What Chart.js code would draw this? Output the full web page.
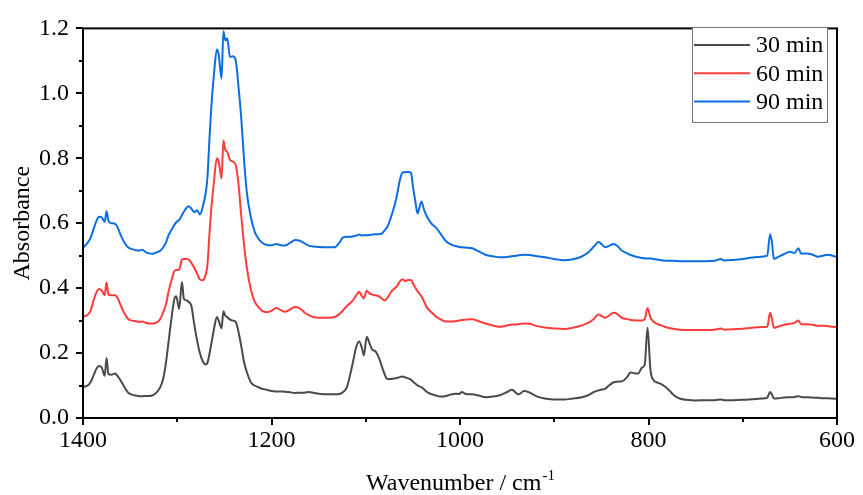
<!DOCTYPE html>
<html>
<head>
<meta charset="utf-8">
<title>FTIR spectra</title>
<script src="https://cdn.jsdelivr.net/npm/chart.js@4.4.0/dist/chart.umd.min.js"></script>
<style>
  html, body { margin: 0; padding: 0; background: #fff; }
  #wrap { width: 863px; height: 495px; }
</style>
</head>
<body>
<div id="wrap"><canvas id="ftirChart" width="863" height="495"></canvas></div>
<script>
// wavenumber (cm-1), high -> low
const wavenumbers = [
  1400, 1398, 1395, 1392, 1389, 1386, 1383, 1380, 1377, 1375,
  1373, 1370, 1366, 1363, 1360, 1356, 1352, 1348, 1344, 1340,
  1337, 1333, 1330, 1326, 1322, 1318, 1315, 1312, 1309, 1306,
  1303, 1301, 1298, 1295, 1293, 1290, 1288, 1285, 1282, 1279,
  1276, 1273, 1270, 1268, 1266, 1264, 1261, 1258, 1256, 1253,
  1251, 1249, 1247, 1244, 1241, 1238, 1235, 1232, 1229, 1226,
  1222, 1218, 1214, 1210, 1205, 1200, 1195, 1190, 1186, 1180,
  1175, 1170, 1165, 1160, 1155, 1150, 1140, 1133, 1128, 1124,
  1120, 1116, 1113, 1110, 1107, 1104, 1102, 1099, 1096, 1093,
  1090, 1086, 1083, 1080, 1077, 1074, 1070, 1067, 1064, 1061,
  1058, 1055, 1052, 1050, 1047, 1045, 1041, 1038, 1035, 1030,
  1025, 1020, 1015, 1010, 1005, 1001, 998, 994, 987, 980,
  973, 965, 958, 950, 945, 940, 938, 932, 926, 918,
  910, 900, 890, 880, 872, 864, 858, 853, 849, 846,
  842, 837, 833, 828, 823, 819, 815, 811, 807, 804,
  801, 798, 795, 791, 787, 783, 778, 773, 767, 760,
  750, 740, 730, 723, 720, 710, 700, 690, 680, 674,
  671, 669, 667, 662, 656, 650, 645, 641, 638, 632,
  626, 620, 615, 610, 605, 600
];

const abs30 = [
  0.095, 0.097, 0.100, 0.110, 0.130, 0.150, 0.160, 0.155, 0.130, 0.185,
  0.135, 0.133, 0.137, 0.128, 0.115, 0.095, 0.078, 0.072, 0.069, 0.067,
  0.067, 0.068, 0.068, 0.070, 0.078, 0.095, 0.120, 0.170, 0.240, 0.310,
  0.367, 0.375, 0.336, 0.419, 0.367, 0.362, 0.358, 0.345, 0.290, 0.240,
  0.200, 0.175, 0.165, 0.170, 0.195, 0.226, 0.275, 0.311, 0.300, 0.276,
  0.329, 0.315, 0.311, 0.303, 0.300, 0.296, 0.265, 0.220, 0.170, 0.140,
  0.110, 0.100, 0.095, 0.090, 0.087, 0.083, 0.082, 0.082, 0.081, 0.079,
  0.077, 0.078, 0.078, 0.080, 0.077, 0.075, 0.073, 0.073, 0.074, 0.080,
  0.095, 0.140, 0.180, 0.220, 0.236, 0.215, 0.193, 0.250, 0.230, 0.210,
  0.206, 0.185, 0.160, 0.135, 0.120, 0.120, 0.122, 0.123, 0.126, 0.128,
  0.125, 0.122, 0.118, 0.112, 0.105, 0.100, 0.095, 0.088, 0.080, 0.073,
  0.069, 0.066, 0.068, 0.072, 0.075, 0.074, 0.080, 0.074, 0.073, 0.069,
  0.064, 0.066, 0.070, 0.080, 0.087, 0.076, 0.073, 0.083, 0.078, 0.066,
  0.060, 0.057, 0.057, 0.060, 0.063, 0.070, 0.080, 0.085, 0.088, 0.090,
  0.100, 0.110, 0.112, 0.113, 0.125, 0.140, 0.138, 0.137, 0.155, 0.165,
  0.278, 0.150, 0.118, 0.110, 0.105, 0.098, 0.085, 0.070, 0.060, 0.056,
  0.054, 0.055, 0.055, 0.057, 0.055, 0.055, 0.056, 0.058, 0.060, 0.063,
  0.080, 0.072, 0.060, 0.061, 0.063, 0.064, 0.065, 0.067, 0.065, 0.064,
  0.063, 0.062, 0.061, 0.061, 0.060, 0.059
];

const abs60 = [
  0.312, 0.314, 0.318, 0.330, 0.360, 0.385, 0.397, 0.392, 0.378, 0.417,
  0.380, 0.378, 0.378, 0.368, 0.347, 0.322, 0.305, 0.300, 0.298, 0.296,
  0.297, 0.293, 0.291, 0.291, 0.294, 0.305, 0.325, 0.350, 0.392, 0.425,
  0.453, 0.456, 0.457, 0.488, 0.490, 0.490, 0.488, 0.478, 0.463, 0.445,
  0.427, 0.424, 0.440, 0.470, 0.560, 0.640, 0.730, 0.800, 0.790, 0.738,
  0.855, 0.825, 0.820, 0.795, 0.790, 0.780, 0.720, 0.620, 0.530, 0.460,
  0.397, 0.360, 0.342, 0.330, 0.326, 0.330, 0.339, 0.332, 0.327, 0.335,
  0.342, 0.338, 0.325, 0.316, 0.310, 0.309, 0.309, 0.311, 0.320, 0.332,
  0.345, 0.355, 0.365, 0.378, 0.389, 0.375, 0.369, 0.392, 0.384, 0.380,
  0.378, 0.375, 0.368, 0.362, 0.370, 0.385, 0.398, 0.405, 0.420, 0.427,
  0.422, 0.425, 0.425, 0.415, 0.400, 0.390, 0.375, 0.358, 0.340, 0.325,
  0.311, 0.303, 0.297, 0.297, 0.298, 0.300, 0.302, 0.303, 0.304, 0.298,
  0.291, 0.285, 0.281, 0.285, 0.288, 0.288, 0.289, 0.291, 0.290, 0.283,
  0.279, 0.276, 0.274, 0.278, 0.284, 0.293, 0.305, 0.319, 0.313, 0.309,
  0.315, 0.324, 0.320, 0.308, 0.305, 0.302, 0.301, 0.300, 0.300, 0.305,
  0.339, 0.310, 0.298, 0.290, 0.286, 0.281, 0.277, 0.274, 0.272, 0.271,
  0.271, 0.271, 0.272, 0.276, 0.272, 0.273, 0.275, 0.278, 0.280, 0.281,
  0.324, 0.305, 0.278, 0.282, 0.287, 0.290, 0.293, 0.300, 0.289, 0.289,
  0.287, 0.284, 0.284, 0.283, 0.281, 0.280
];

const abs90 = [
  0.525, 0.530, 0.540, 0.555, 0.580, 0.605, 0.620, 0.618, 0.604, 0.637,
  0.607, 0.600, 0.598, 0.585, 0.563, 0.540, 0.525, 0.520, 0.517, 0.516,
  0.518, 0.510, 0.507, 0.506, 0.510, 0.515, 0.525, 0.540, 0.565, 0.580,
  0.595, 0.603, 0.610, 0.625, 0.635, 0.648, 0.652, 0.645, 0.634, 0.640,
  0.627, 0.650, 0.690, 0.740, 0.850, 0.951, 1.060, 1.135, 1.120, 1.045,
  1.191, 1.163, 1.170, 1.112, 1.114, 1.102, 1.020, 0.920, 0.790, 0.690,
  0.620, 0.575, 0.553, 0.540, 0.533, 0.532, 0.536, 0.532, 0.531, 0.540,
  0.548, 0.546, 0.538, 0.530, 0.528, 0.527, 0.526, 0.526, 0.540, 0.556,
  0.558, 0.558, 0.560, 0.562, 0.565, 0.562, 0.563, 0.563, 0.564, 0.565,
  0.566, 0.566, 0.568, 0.578, 0.589, 0.612, 0.649, 0.685, 0.730, 0.756,
  0.757, 0.758, 0.755, 0.715, 0.660, 0.630, 0.667, 0.640, 0.620, 0.598,
  0.585, 0.565, 0.545, 0.535, 0.530, 0.527, 0.526, 0.525, 0.523, 0.513,
  0.503, 0.498, 0.495, 0.496, 0.498, 0.500, 0.501, 0.503, 0.502, 0.498,
  0.495, 0.490, 0.486, 0.489, 0.496, 0.510, 0.528, 0.542, 0.533, 0.526,
  0.530, 0.536, 0.530, 0.515, 0.508, 0.502, 0.498, 0.495, 0.493, 0.492,
  0.491, 0.491, 0.490, 0.488, 0.486, 0.485, 0.484, 0.484, 0.483, 0.483,
  0.483, 0.483, 0.484, 0.490, 0.485, 0.487, 0.490, 0.494, 0.497, 0.500,
  0.566, 0.540, 0.490, 0.497, 0.505, 0.512, 0.508, 0.523, 0.506, 0.507,
  0.503, 0.497, 0.500, 0.503, 0.500, 0.496
];

const seriesLabels = ['30 min', '60 min', '90 min'];
const seriesColors = ['#4a4a4a', '#ff3c3c', '#0a6ee0'];

const FONT = "'Liberation Serif', 'Times New Roman', serif";
Chart.defaults.font.family = FONT;
Chart.defaults.color = '#000';

function toPoints(vals) {
  return wavenumbers.map((w, i) => ({ x: w, y: vals[i] }));
}

// frame, outward major/minor ticks, legend box and x title with superscript
const decorations = {
  id: 'decorations',
  afterDraw(chart) {
    const { ctx, chartArea: a, scales: { x, y } } = chart;
    ctx.save();
    ctx.strokeStyle = '#000';
    ctx.lineWidth = 2;
    ctx.strokeRect(a.left, a.top, a.right - a.left, a.bottom - a.top);

    ctx.beginPath();
    for (let v = 600; v <= 1400; v += 100) {
      const px = Math.round(x.getPixelForValue(v));
      const len = v % 200 === 0 ? 7 : 4;
      ctx.moveTo(px, a.bottom);
      ctx.lineTo(px, a.bottom + len);
    }
    for (let i = 0; i <= 12; i++) {
      const py = Math.round(y.getPixelForValue(i / 10));
      const len = i % 2 === 0 ? 7 : 4;
      ctx.moveTo(a.left, py);
      ctx.lineTo(a.left - len, py);
    }
    ctx.stroke();

    // legend
    const bx = 692, by = 27, bw = 135, bh = 95;
    ctx.fillStyle = '#fff';
    ctx.fillRect(bx, by, bw, bh);
    ctx.strokeStyle = '#777';
    ctx.lineWidth = 1;
    ctx.strokeRect(bx + 0.5, by + 0.5, bw, bh);
    ctx.font = '24px ' + FONT;
    ctx.textBaseline = 'middle';
    ctx.textAlign = 'left';
    chart.data.datasets.forEach((ds, i) => {
      const ly = by + 18 + i * 28.3;
      ctx.strokeStyle = ds.borderColor;
      ctx.lineWidth = 2;
      ctx.beginPath();
      ctx.moveTo(bx + 2, ly);
      ctx.lineTo(bx + 58, ly);
      ctx.stroke();
      ctx.fillStyle = '#000';
      ctx.fillText(ds.label, bx + 64, ly + 1);
    });

    // x axis title: Wavenumber / cm^-1
    const main = 'Wavenumber / cm';
    const sup = '-1';
    ctx.font = '24px ' + FONT;
    const w1 = ctx.measureText(main).width;
    ctx.font = '15px ' + FONT;
    const w2 = ctx.measureText(sup).width;
    const cx = (a.left + a.right) / 2;
    const startX = cx - (w1 + w2) / 2;
    ctx.textBaseline = 'alphabetic';
    ctx.fillStyle = '#000';
    ctx.font = '24px ' + FONT;
    ctx.fillText(main, startX, 490);
    ctx.font = '15px ' + FONT;
    ctx.fillText(sup, startX + w1 + 1, 480);
    ctx.restore();
  }
};

const ctx = document.getElementById('ftirChart').getContext('2d');
const ftirChart = new Chart(ctx, {
  type: 'line',
  data: {
    datasets: [abs30, abs60, abs90].map((vals, i) => ({
      label: seriesLabels[i],
      data: toPoints(vals),
      borderColor: seriesColors[i],
      backgroundColor: seriesColors[i],
      borderWidth: 2,
      pointRadius: 0,
      fill: false,
      cubicInterpolationMode: 'monotone'
    }))
  },
  options: {
    responsive: false,
    animation: false,
    devicePixelRatio: 1,
    layout: { padding: { left: 0, right: 21, top: 21, bottom: 0 } },
    plugins: {
      legend: { display: false },
      tooltip: { enabled: false }
    },
    scales: {
      x: {
        type: 'linear',
        reverse: true,
        min: 600,
        max: 1400,
        afterFit(scale) { scale.height = 77; },
        grid: { display: false, drawTicks: false },
        border: { display: false },
        ticks: {
          stepSize: 200,
          padding: 8,
          maxRotation: 0,
          font: { size: 24 },
          color: '#000',
          callback: (v) => String(v)
        }
      },
      y: {
        type: 'linear',
        min: 0,
        max: 1.2,
        afterFit(scale) { scale.width = 83; },
        grid: { display: false, drawTicks: false },
        border: { display: false },
        title: {
          display: true,
          text: 'Absorbance',
          font: { size: 24 },
          color: '#000',
          padding: { top: 8, bottom: 0 }
        },
        ticks: {
          stepSize: 0.2,
          padding: 14,
          font: { size: 24 },
          color: '#000',
          callback: (v) => v.toFixed(1)
        }
      }
    }
  },
  plugins: [decorations]
});
</script>
</body>
</html>
